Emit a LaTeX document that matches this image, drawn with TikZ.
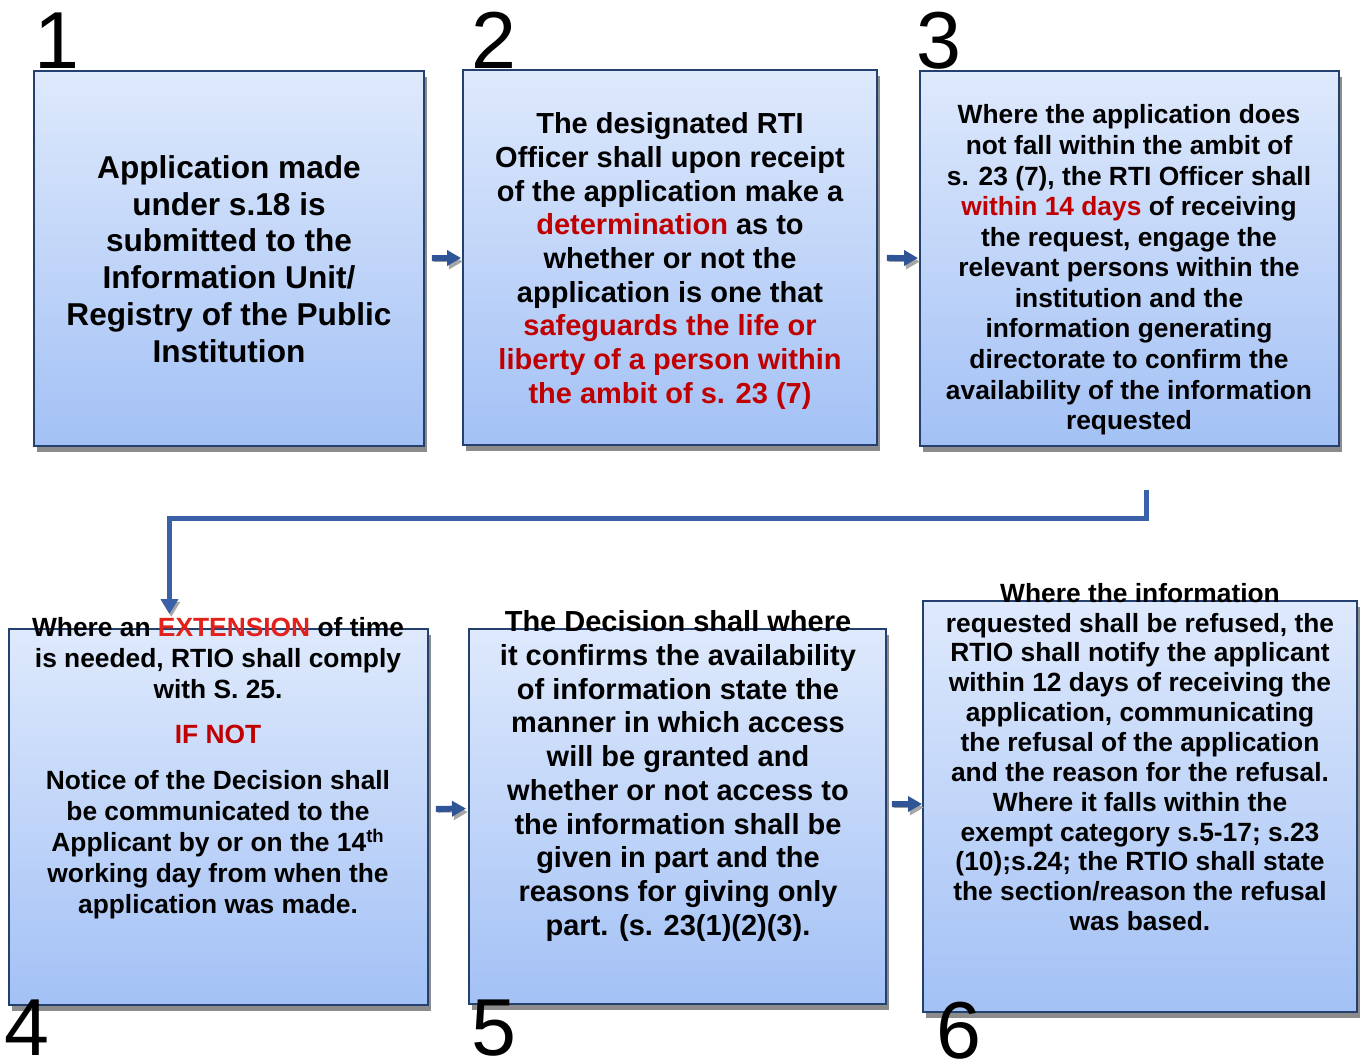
\documentclass[tikz,border=0pt]{standalone}
\usepackage{fontspec}
\setmainfont{Liberation Sans}
\usepackage{tikz}
\usetikzlibrary{arrows.meta, shadows}
\definecolor{boxline}{HTML}{24406E}
\definecolor{boxtop}{HTML}{DEE9FC}
\definecolor{boxbottom}{HTML}{A3C1F5}
\definecolor{arrowblue}{HTML}{2F5597}
\definecolor{linkblue}{HTML}{3A60A8}
\definecolor{darkred}{HTML}{C00000}
\definecolor{brightred}{HTML}{E3201B}

\begin{document}
\begin{tikzpicture}[x=0.02cm, y=-0.02cm,
  stepbox/.style={draw=boxline, line width=1.1pt, top color=boxtop, bottom color=boxbottom, inner sep=0pt, outer sep=0pt,
    drop shadow={shadow xshift=1.6pt, shadow yshift=-3.2pt, fill=black!45, opacity=1}},
  steptext/.style={align=center, inner sep=0pt, text=black},
  numlabel/.style={font=\fontsize{46}{46}\selectfont, anchor=base, inner sep=0pt},
  blockarrow/.style={-{Triangle[length=0.28cm, width=0.3cm]}, line width=0.12cm, draw=arrowblue,
    preaction={draw=black!35, transform canvas={xshift=1pt, yshift=-2pt}}},
  linkarrow/.style={-{Triangle[length=0.3cm, width=0.34cm]}, line width=0.1cm, draw=linkblue,
    preaction={draw=black!35, transform canvas={xshift=1pt, yshift=-1.6pt}}}]
  \useasboundingbox (0,0) rectangle (1363,1063);

  % Boxes
  \node[stepbox, minimum width=7.8cm, minimum height=7.5cm] (apply) at (229,258.5) {};
  \node[stepbox, minimum width=8.28cm, minimum height=7.5cm] (decide) at (670,257.5) {};
  \node[stepbox, minimum width=8.38cm, minimum height=7.5cm] (engage) at (1129.5,258.5) {};
  \node[stepbox, minimum width=8.38cm, minimum height=7.52cm] (extend) at (218.5,817) {};
  \node[stepbox, minimum width=8.34cm, minimum height=7.5cm] (grant) at (677.5,816.5) {};
  \node[stepbox, minimum width=8.68cm, minimum height=8.22cm] (refuse) at (1140,806.5) {};

  % Numbers
  \node[numlabel] (num1) at (57,68) {1};
  \node[numlabel] (num2) at (494,68) {2};
  \node[numlabel] (num3) at (939,68) {3};
  \node[numlabel] (num4) at (27,1055) {4};
  \node[numlabel] (num5) at (494,1055) {5};
  \node[numlabel] (num6) at (959,1058) {6};

  % Texts
  \node[steptext, font=\bfseries\fontsize{18}{20.9}\selectfont] (applytxt) at (229,259)
    {Application made\\under s.18 is\\submitted to the\\Information Unit/\\Registry of the Public\\Institution};
  \node[steptext, font=\bfseries\fontsize{16.5}{19.2}\selectfont] (decidetxt) at (670,261)
    {The designated RTI\\Officer shall upon receipt\\of the application make a\\\textcolor{darkred}{determination} as to\\whether or not the\\application is one that\\\textcolor{darkred}{safeguards the life or}\\\textcolor{darkred}{liberty of a person within}\\\textcolor{darkred}{the ambit of s. 23 (7)}};
  \node[steptext, font=\bfseries\fontsize{15}{17.4}\selectfont] (engagetxt) at (1129,270)
    {Where the application does\\not fall within the ambit of\\s. 23 (7), the RTI Officer shall\\\textcolor{darkred}{within 14 days} of receiving\\the request, engage the\\relevant persons within the\\institution and the\\information generating\\directorate to confirm the\\availability of the information\\requested};
  \node[steptext, font=\bfseries\fontsize{15}{17.6}\selectfont] (extendtxt) at (218,768)
    {Where an \textcolor{brightred}{EXTENSION} of time\\is needed, RTIO shall comply\\with S. 25.\\[8.5pt]\textcolor{darkred}{IF NOT}\\[8.5pt]Notice of the Decision shall\\be communicated to the\\Applicant by or on the 14\textsuperscript{th}\\working day from when the\\application was made.};
  \node[steptext, font=\bfseries\fontsize{16.5}{19.2}\selectfont] (granttxt) at (678,776)
    {The Decision shall where\\it confirms the availability\\of information state the\\manner in which access\\will be granted and\\whether or not access to\\the information shall be\\given in part and the\\reasons for giving only\\part. (s. 23(1)(2)(3).};
  \node[steptext, font=\bfseries\fontsize{15}{17}\selectfont] (refusetxt) at (1140,757)
    {Where the information\\requested shall be refused, the\\RTIO shall notify the applicant\\within 12 days of receiving the\\application, communicating\\the refusal of the application\\and the reason for the refusal.\\Where it falls within the\\exempt category s.5-17; s.23\\(10);s.24; the RTIO shall state\\the section/reason the refusal\\was based.};

  % Arrows
  \draw[blockarrow, shorten <=0.16cm, shorten >=0.04cm] (apply) -- (decide);
  \draw[blockarrow, shorten <=0.2cm, shorten >=0.04cm] (decide) -- (engage);
  \draw[blockarrow, shorten <=0.16cm, shorten >=0.06cm] ([yshift=0.16cm]extend.east) -- ([yshift=0.16cm]grant.west);
  \draw[blockarrow, shorten <=0.12cm, shorten >=0.02cm] ([yshift=0.25cm]grant.east) -- ([yshift=0.05cm]refuse.west);

  % Link from 3 down to 4
  \coordinate (from3) at (1146,490);
  \coordinate (turn4) at (169.5,518);
  \draw[linkarrow, shorten >=0.3cm] (from3) |- (turn4) -- (turn4 |- extend.north);
\end{tikzpicture}
\end{document}
